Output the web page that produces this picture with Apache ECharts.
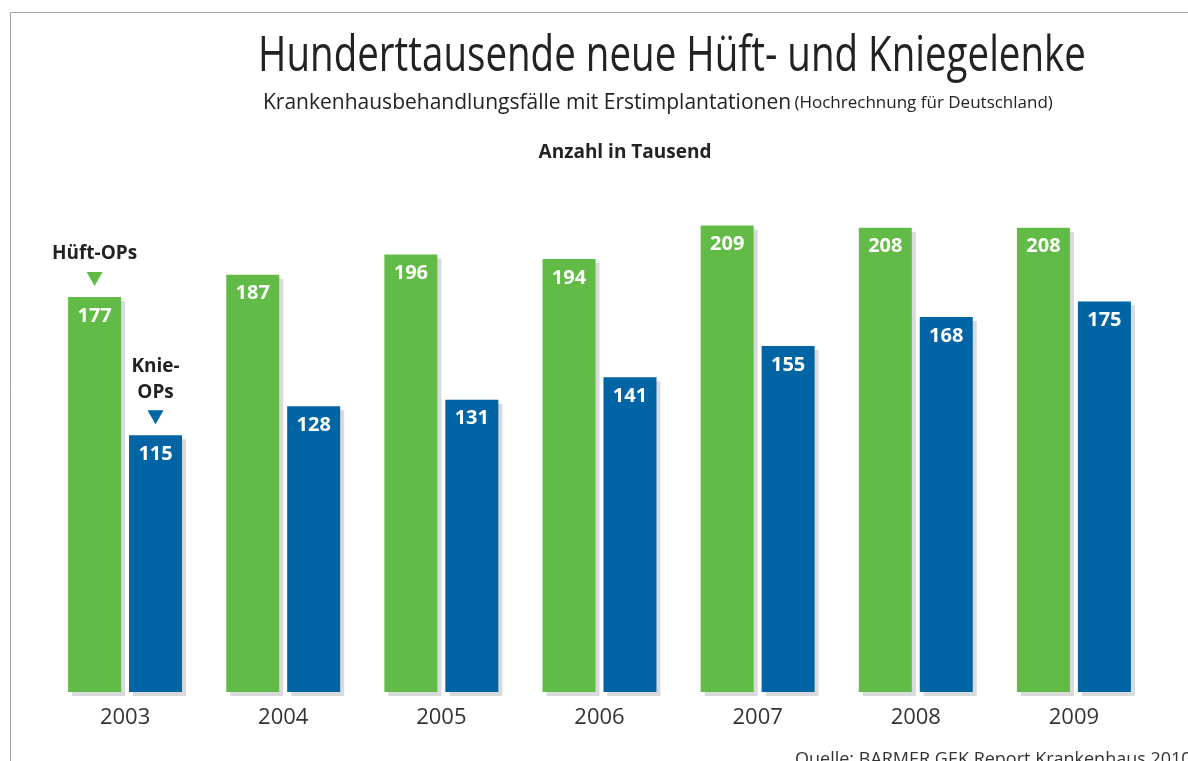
<!DOCTYPE html>
<html>
<head>
<meta charset="utf-8">
<script src="https://cdn.jsdelivr.net/npm/echarts@6/dist/echarts.min.js"></script>
<style>
  html, body { margin: 0; padding: 0; background: #fff; }
  #chart { width: 1188px; height: 761px; }
</style>
</head>
<body>
<div id="chart"></div>
<script>
const years = ['2003', '2004', '2005', '2006', '2007', '2008', '2009'];
const hueftOps = [177, 187, 196, 194, 209, 208, 208];
const knieOps = [115, 128, 131, 141, 155, 168, 175];

const green = '#62bb46';
const blue = '#0064a5';
const shadow = '#d9dadc';
const textFont = '"Open Sans", sans-serif';

const chart = echarts.init(document.getElementById('chart'));

const barLabel = {
  show: true,
  position: 'insideTop',
  distance: 9,
  color: '#fff',
  fontFamily: textFont,
  fontWeight: 'bold',
  fontSize: 20
};

const marker = (name, color, label) => ({
  symbol: 'triangle',
  symbolRotate: 180,
  symbolSize: [16, 14],
  symbolOffset: [0, -18],
  itemStyle: { color: color },
  label: {
    show: true,
    position: 'top',
    distance: 5,
    formatter: label,
    color: '#222',
    fontFamily: textFont,
    fontWeight: 'bold',
    fontSize: 19,
    lineHeight: 26
  },
  data: [{ name: name, coord: [years[0], name === 'hueft' ? hueftOps[0] : knieOps[0]] }]
});

chart.setOption({
  animation: false,
  backgroundColor: '#fff',
  grid: { left: 46, right: 35, top: 201, bottom: 69 },
  xAxis: {
    type: 'category',
    data: years,
    axisLine: { show: false },
    axisTick: { show: false },
    axisLabel: { color: '#333', fontFamily: textFont, fontSize: 22, margin: 15 }
  },
  yAxis: { type: 'value', min: 0, max: 220, show: false, splitLine: { show: false } },
  series: [
    {
      name: 'Hüft-OPs',
      type: 'bar',
      data: hueftOps,
      barWidth: 53,
      barGap: '15%',
      itemStyle: { color: green, shadowColor: shadow, shadowOffsetX: 4, shadowOffsetY: 4, shadowBlur: 0 },
      label: barLabel,
      markPoint: marker('hueft', green, 'Hüft-OPs')
    },
    {
      name: 'Knie-OPs',
      type: 'bar',
      data: knieOps,
      barWidth: 53,
      barGap: '15%',
      itemStyle: { color: blue, shadowColor: shadow, shadowOffsetX: 4, shadowOffsetY: 4, shadowBlur: 0 },
      label: barLabel,
      markPoint: marker('knie', blue, 'Knie-\nOPs')
    }
  ],
  graphic: [
    // rahmen oben + links
    { type: 'line', shape: { x1: 10.5, y1: 12.5, x2: 1188, y2: 12.5 }, style: { stroke: '#a0a0a0', lineWidth: 1 } },
    { type: 'line', shape: { x1: 10.5, y1: 12.5, x2: 10.5, y2: 761 }, style: { stroke: '#a0a0a0', lineWidth: 1 } },
    {
      // schmal gezogen, weil keine Condensed-Schrift da ist
      type: 'text', x: 672, y: 57, scaleX: 0.77,
      style: {
        text: 'Hunderttausende neue Hüft- und Kniegelenke',
        fill: '#222', font: '50px ' + textFont,
        textAlign: 'center', textVerticalAlign: 'middle'
      }
    },
    {
      type: 'text', x: 263, y: 103,
      style: {
        text: '{a|Krankenhausbehandlungsfälle mit Erstimplantationen} {b|(Hochrechnung für Deutschland)}',
        fill: '#222', textVerticalAlign: 'middle',
        rich: {
          a: { fontFamily: textFont, fontSize: 21, fill: '#222' },
          b: { fontFamily: textFont, fontSize: 17, fill: '#222' }
        }
      }
    },
    {
      type: 'text', x: 625, y: 153,
      style: {
        text: 'Anzahl in Tausend', fill: '#222',
        font: 'bold 19px ' + textFont,
        textAlign: 'center', textVerticalAlign: 'middle'
      }
    },
    {
      type: 'text', x: 795, y: 760,
      style: {
        text: 'Quelle: BARMER GEK Report Krankenhaus 2010', fill: '#333',
        font: '18px ' + textFont,
        textAlign: 'left', textVerticalAlign: 'middle'
      }
    }
  ]
});

window.addEventListener('resize', () => chart.resize());
</script>
</body>
</html>
